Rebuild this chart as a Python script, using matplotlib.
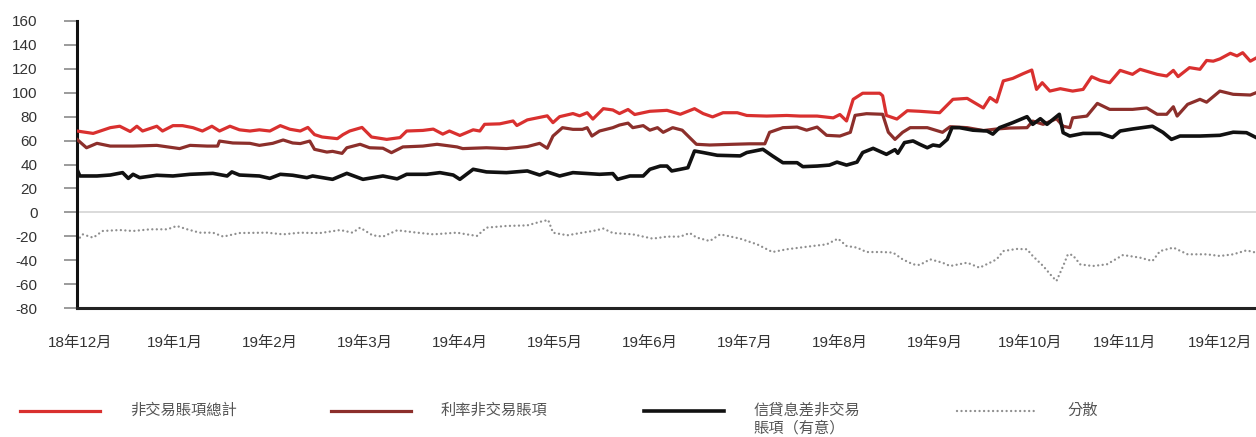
import matplotlib
matplotlib.use("Agg")
import matplotlib.pyplot as plt
from matplotlib.lines import Line2D

# x positions are in months counted from the 18年12月 tick
month_labels = ["18年12月", "19年1月", "19年2月", "19年3月", "19年4月", "19年5月", "19年6月",
                "19年7月", "19年8月", "19年9月", "19年10月", "19年11月", "19年12月"]
y_ticks = [-80, -60, -40, -20, 0, 20, 40, 60, 80, 100, 120, 140, 160]

total_x = [-0.03, 0.14, 0.32, 0.42, 0.53, 0.60, 0.66, 0.81, 0.87, 0.98, 1.08, 1.19, 1.29, 1.39,
           1.47, 1.58, 1.68, 1.79, 1.89, 2.00, 2.11, 2.21, 2.32, 2.40, 2.47, 2.55, 2.71, 2.77,
           2.84, 2.97, 3.07, 3.23, 3.37, 3.44, 3.61, 3.72, 3.82, 3.89, 4.00, 4.14, 4.21, 4.26,
           4.42, 4.56, 4.60, 4.71, 4.92, 4.98, 5.05, 5.19, 5.26, 5.34, 5.40, 5.51, 5.61, 5.68,
           5.77, 5.84, 6.00, 6.18, 6.32, 6.47, 6.56, 6.66, 6.77, 6.92, 7.02, 7.23, 7.44, 7.58,
           7.76, 7.93, 8.00, 8.07, 8.14, 8.24, 8.42, 8.45, 8.49, 8.60, 8.71, 8.84, 9.05, 9.19,
           9.34, 9.51, 9.58, 9.65, 9.72, 9.82, 9.93, 10.02, 10.07, 10.13, 10.21, 10.32, 10.45,
           10.56, 10.65, 10.74, 10.84, 10.95, 11.08, 11.16, 11.34, 11.44, 11.51, 11.56, 11.68,
           11.79, 11.86, 11.93, 12.00, 12.11, 12.18, 12.24, 12.32, 12.38]
total_y = [68, 66, 70.8, 72, 67.6, 72, 68, 72, 68, 72.5, 72.5, 70.8, 68, 72,
           68, 72, 69, 68, 69, 68, 72.5, 69.5, 68, 71, 65, 63, 61.6, 65,
           68, 71, 63, 61, 62.5, 68, 68.5, 69.6, 65.4, 68, 64.3, 69, 68, 73.6,
           74, 76.4, 72.6, 77.3, 80.7, 75, 80, 82.6, 80.7, 83.3, 78, 86.7, 85.6, 82.6,
           86, 81.8, 84.5, 85.3, 82, 86.7, 82.6, 79.8, 83.3, 83.3, 81, 80.5, 81, 80.5,
           80.5, 79, 81.8, 76.4, 94.5, 99.6, 99.6, 97.5, 81, 78, 85, 84.5, 83.3, 94.5,
           95.3, 87.3, 96, 92.2, 109.9, 112, 116, 119, 102.8, 108.4, 101.4, 103.4, 101.4,
           102.8, 113.4, 110.3, 108.4, 118.7, 115.4, 119.6, 115.4, 114, 118.7, 113.5, 121,
           119.6, 127, 126.4, 128.3, 133, 130.8, 133.5, 126.4, 129]

rate_x = [-0.03, 0.07, 0.18, 0.32, 0.56, 0.81, 1.05, 1.16, 1.34, 1.45, 1.47, 1.61, 1.79, 1.89,
          2.03, 2.14, 2.24, 2.32, 2.42, 2.47, 2.60, 2.66, 2.76, 2.81, 2.95, 3.05, 3.19, 3.28,
          3.40, 3.61, 3.76, 3.97, 4.03, 4.28, 4.49, 4.71, 4.84, 4.92, 4.98, 5.08, 5.19, 5.29,
          5.34, 5.39, 5.47, 5.61, 5.68, 5.77, 5.82, 5.93, 6.00, 6.08, 6.14, 6.24, 6.34, 6.42,
          6.49, 6.63, 6.87, 7.05, 7.21, 7.26, 7.40, 7.55, 7.65, 7.76, 7.86, 8.00, 8.11, 8.16,
          8.28, 8.45, 8.51, 8.58, 8.66, 8.74, 8.92, 9.08, 9.16, 9.34, 9.51, 9.65, 9.79, 9.97,
          10.03, 10.14, 10.28, 10.35, 10.42, 10.45, 10.60, 10.71, 10.84, 11.08, 11.23, 11.34,
          11.44, 11.51, 11.55, 11.66, 11.79, 11.86, 12.00, 12.14, 12.32, 12.38]
rate_y = [61, 54, 57.7, 55.4, 55.4, 56, 53.3, 56, 55.4, 55.4, 59.6, 58, 57.7, 56,
          57.7, 60.5, 58, 57.5, 59.6, 52.7, 50.4, 51, 49.3, 54, 56.9, 54, 53.6, 49.9,
          54.7, 55.4, 56.9, 54.7, 53.3, 54, 53.3, 55, 57.7, 53.6, 63.8, 70.8, 69.4, 69.4,
          70.8, 63.8, 68, 70.8, 73, 74.6, 70.8, 72.5, 68.7, 70.8, 66.9, 70.8, 68.7, 62.4,
          56.9, 56.3, 56.9, 57.3, 57.3, 66.9, 70.8, 71.3, 68.7, 71.3, 64.4, 63.8, 66.9, 81.1,
          82.5, 82, 67, 61, 66.9, 70.8, 70.8, 66.9, 71.6, 70.8, 68.4, 69.7, 70.5, 70.8,
          76.3, 73.6, 78.3, 72, 70.8, 79, 80.5, 91.1, 86.1, 86.1, 87.3, 82,
          82, 88.3, 80.5, 90.3, 94.5, 92.1, 101.4, 98.7, 98.1, 100]

credit_x = [-0.03, 0.00, 0.18, 0.32, 0.45, 0.51, 0.56, 0.63, 0.81, 0.98, 1.16, 1.40, 1.55, 1.60,
            1.68, 1.89, 2.00, 2.11, 2.24, 2.39, 2.45, 2.66, 2.81, 2.98, 3.19, 3.34, 3.44, 3.65,
            3.79, 3.93, 4.00, 4.14, 4.28, 4.49, 4.71, 4.84, 4.92, 5.05, 5.19, 5.47, 5.61, 5.66,
            5.79, 5.93, 6.00, 6.11, 6.18, 6.23, 6.32, 6.40, 6.47, 6.56, 6.71, 6.95, 7.02, 7.19,
            7.29, 7.40, 7.55, 7.61, 7.76, 7.89, 7.97, 8.07, 8.18, 8.24, 8.35, 8.49, 8.58, 8.61,
            8.68, 8.77, 8.84, 8.92, 8.98, 9.05, 9.13, 9.18, 9.26, 9.40, 9.55, 9.61, 9.68, 9.82,
            9.97, 10.03, 10.11, 10.18, 10.31, 10.35, 10.42, 10.56, 10.74, 10.87, 10.95, 11.08,
            11.29, 11.40, 11.49, 11.58, 11.79, 12.00, 12.14, 12.28, 12.38]
credit_y = [36, 30.4, 30.4, 31.2, 33.2, 28.4, 31.8, 29, 31, 30.4, 31.8, 32.6, 30.4, 33.8,
            31.2, 30.4, 28.4, 31.8, 31, 29, 30.4, 27.6, 32.6, 27.6, 30.4, 28, 31.8, 31.8,
            33.2, 31.2, 27.6, 36, 33.8, 33.2, 34.6, 31.2, 33.8, 30.4, 33.2, 31.8, 32.4, 27.6,
            30.4, 30.4, 36, 38.7, 38.7, 34.6, 36, 37.3, 51.3, 50, 47.7, 47.2, 50, 52.7,
            47.2, 41.5, 41.5, 38.2, 38.7, 39.5, 42, 39.5, 42, 50, 53.5, 48.5, 52.4, 49.4,
            58.3, 59.7, 56.9, 54, 56.3, 55.4, 61, 70.8, 70.8, 68.7, 68, 65.4, 70.8, 75,
            80, 73.6, 78.3, 73.6, 82, 66.6, 63.8, 66, 66, 62.6, 68, 69.7,
            72, 66.9, 61, 63.8, 63.8, 64.4, 67, 66.6, 62.6]

spread_x = [-0.03, 0.03, 0.14, 0.24, 0.42, 0.56, 0.74, 0.92, 1.02, 1.13, 1.26, 1.40, 1.51, 1.68,
            1.97, 2.14, 2.32, 2.45, 2.53, 2.74, 2.87, 2.95, 3.08, 3.19, 3.34, 3.55, 3.72, 3.97,
            4.07, 4.18, 4.28, 4.49, 4.71, 4.84, 4.93, 4.98, 5.13, 5.29, 5.40, 5.51, 5.61, 5.82,
            6.03, 6.18, 6.32, 6.42, 6.49, 6.63, 6.74, 6.95, 7.13, 7.29, 7.44, 7.58, 7.72, 7.86,
            7.98, 8.07, 8.18, 8.28, 8.45, 8.56, 8.66, 8.77, 8.84, 8.95, 9.08, 9.16, 9.34, 9.47,
            9.58, 9.65, 9.72, 9.86, 9.97, 10.03, 10.14, 10.23, 10.28, 10.35, 10.40, 10.45, 10.53,
            10.66, 10.81, 10.98, 11.16, 11.29, 11.37, 11.51, 11.66, 11.86, 12.00, 12.14, 12.28,
            12.38]
spread_y = [-24, -18.4, -21.2, -15.6, -14.8, -15.6, -14.2, -14.2, -11.4, -14.2, -17, -17, -20.3, -17.3,
            -17, -18.4, -17, -17.3, -17.3, -14.8, -17, -12.8, -19.2, -20.3, -15, -17, -18.4, -17,
            -18.4, -19.7, -12.8, -11.4, -10.9, -8, -6.4, -17, -19.2, -17, -15.6, -13.6, -17.3, -18.4,
            -22, -20.3, -20.3, -17.3, -21, -24, -18.4, -22, -26.8, -33.2, -30.9, -29.5, -28.1, -26.8,
            -22, -28.1, -29.5, -33.2, -33.2, -33.7, -39.3, -43.5, -44, -39.3, -42.1, -44.9, -42.1, -46.3,
            -42.1, -39.3, -32.4, -30.6, -30.9, -36.5, -44.9, -53.3, -57.4, -44.9, -35.1, -35.7, -43.5,
            -44.9, -43.5, -35.7, -37.9, -40.7, -32.4, -29.5, -35.1, -35.1, -36.5, -35.1, -31.8,
            -33.7]

labels = ["非交易賬項總計", "利率非交易賬項", "信貸息差非交易\n賬項（有意）", "分散"]

num_font = ["Liberation Sans", "Noto Sans CJK TC"]
cjk_font = ["Noto Sans CJK TC", "DejaVu Sans"]

styles = [
    dict(color="#d9302f", lw=2.3, linestyle="-"),
    dict(color="#8c2f2b", lw=2.3, linestyle="-"),
    dict(color="#111111", lw=2.6, linestyle="-"),
    dict(color="#8f8f8f", lw=1.7, linestyle=(0, (0.01, 1.9))),
]

fig = plt.figure(figsize=(12.56, 4.37), dpi=100)
ax = fig.add_axes([77 / 1256, 1 - 308 / 437, 1 - 77 / 1256, (308 - 21) / 437])

ax.axhline(0, color="#d4d4d4", lw=1.2, zorder=1)
ax.plot(total_x, total_y, zorder=3, **styles[0])
ax.plot(rate_x, rate_y, zorder=3, **styles[1])
ax.plot(credit_x, credit_y, zorder=4, **styles[2])
ax.plot(spread_x, spread_y, dash_capstyle="round", zorder=2, **styles[3])

ax.set_xlim(-0.03, 12.38)
ax.set_ylim(-80, 160)
ax.set_yticks(y_ticks)
ax.set_yticklabels([str(v) for v in y_ticks], fontfamily=num_font, fontsize=11,
                   color="#333333")
ax.set_xticks(range(len(month_labels)))
ax.set_xticklabels(month_labels, fontfamily=num_font, fontsize=11, color="#333333")
ax.tick_params(axis="y", length=9.5, width=1.2, color="#8a8a8a", pad=19)
ax.tick_params(axis="x", length=0, pad=20)

for side in ("top", "right"):
    ax.spines[side].set_visible(False)
ax.spines["left"].set_linewidth(2.2)
ax.spines["bottom"].set_linewidth(2.2)
ax.spines["left"].set_color("#111111")
ax.spines["bottom"].set_color("#222222")

# legend row below the chart
legend_y = 1 - 411 / 437
starts = [20, 331, 644, 957]
for style, text, x0 in zip(styles, labels, starts):
    fig.add_artist(Line2D([x0 / 1256, (x0 + 80) / 1256], [legend_y, legend_y],
                          transform=fig.transFigure, dash_capstyle="round", **style))
    fig.text((x0 + 110) / 1256, legend_y + 9 / 437, text, ha="left", va="top",
             fontfamily=cjk_font, fontsize=11, color="#555555", linespacing=1.02)

fig.savefig("out.png", dpi=100)
